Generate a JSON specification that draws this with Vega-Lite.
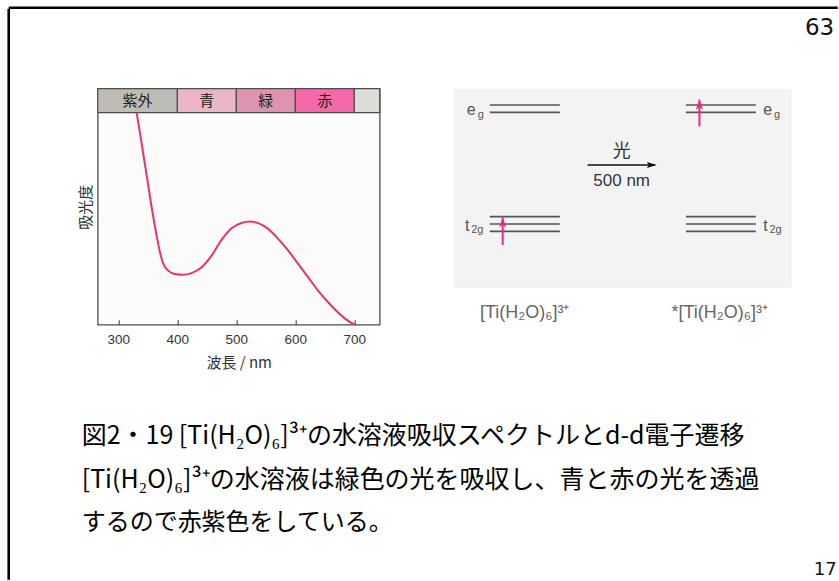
{
  "$schema": "https://vega.github.io/schema/vega-lite/v6.json",
  "padding": {"left": 6.7, "top": 5.7, "right": 0, "bottom": 0},
  "background": "white",
  "bounds": "flush",
  "spacing": 0,
  "config": {"view": {"stroke": null}, "font": "Liberation Sans"},
  "vconcat": [
    {
      "width": 829,
      "height": 0.001,
      "title": {"text": "63", "orient": "bottom", "anchor": "end", "offset": 8, "dx": -3.5, "font": "DejaVu Sans", "fontSize": 23, "fontWeight": "normal", "color": "#111", "frame": "group"},
      "data": {"values": [{"k": "border"}]},
      "mark": {"type": "rule", "color": "black", "strokeWidth": 2.6},
      "encoding": {"y": {"datum": 0, "type": "quantitative", "scale": {"domain": [0, 1]}, "axis": null}}
    },
    {
      "bounds": "flush",
      "spacing": 88,
      "hconcat": [
        {
          "width": 0.001,
          "height": 571,
          "data": {"values": [{"k": "border"}]},
          "mark": {"type": "rule", "color": "black", "strokeWidth": 2.6},
          "encoding": {"x": {"datum": 0, "type": "quantitative", "scale": {"domain": [0, 1]}, "axis": null}}
        },
        {
          "bounds": "flush",
          "spacing": 79,
          "vconcat": [
            {
              "width": 0.001,
              "height": 0.001,
              "data": {"values": []},
              "mark": {"type": "text"},
              "encoding": {"text": {"field": "t", "type": "nominal"}}
            },
            {
              "bounds": "flush",
              "spacing": 347.6,
              "vconcat": [
                {
                  "bounds": "flush",
                  "spacing": 74,
                  "hconcat": [
                    {
                      "width": 282,
                      "height": 236,
                      "view": {"stroke": "#4d4d4d", "strokeWidth": 1.3, "fill": "#fbfbfa"},
                      "layer": [
                        {
                          "data": {"values": [
                            {"band": "紫外", "lo": 265, "hi": 400},
                            {"band": "青", "lo": 400, "hi": 500},
                            {"band": "緑", "lo": 500, "hi": 600},
                            {"band": "赤", "lo": 600, "hi": 700},
                            {"band": "", "lo": 700, "hi": 743}
                          ]},
                          "transform": [{"calculate": "(datum.lo + datum.hi) / 2", "as": "mid"}],
                          "layer": [
                            {
                              "mark": {"type": "rect", "stroke": "#4d4d4d", "strokeWidth": 1.2},
                              "encoding": {
                                "x": {"field": "lo", "type": "quantitative", "scale": {"domain": [265, 743], "nice": false, "zero": false}},
                                "x2": {"field": "hi"},
                                "y": {"datum": 1.0, "type": "quantitative"},
                                "y2": {"datum": 1.1132},
                                "color": {"field": "band", "type": "nominal", "legend": null,
                                  "scale": {"domain": ["紫外", "青", "緑", "赤", ""], "range": ["#bdbdb5", "#eab6c8", "#de94b0", "#f46aa8", "#dcdcd8"]}}
                              }
                            },
                            {
                              "mark": {"type": "text", "font": "Noto Sans CJK JP", "fontSize": 15, "color": "#222", "baseline": "middle", "align": "center"},
                              "encoding": {
                                "x": {"field": "mid", "type": "quantitative"},
                                "y": {"datum": 1.0566, "type": "quantitative"},
                                "text": {"field": "band"}
                              }
                            }
                          ]
                        },
                        {
                          "data": {"values": [
                            {"wl": 331.0, "a": 1.0}, {"wl": 339.5, "a": 0.854}, {"wl": 348.0, "a": 0.704},
                            {"wl": 356.4, "a": 0.554}, {"wl": 364.9, "a": 0.42}, {"wl": 370.5, "a": 0.342},
                            {"wl": 376.2, "a": 0.287}, {"wl": 384.6, "a": 0.255}, {"wl": 395.9, "a": 0.239},
                            {"wl": 410.0, "a": 0.235}, {"wl": 424.1, "a": 0.243}, {"wl": 441.1, "a": 0.271},
                            {"wl": 458.0, "a": 0.326}, {"wl": 474.9, "a": 0.4}, {"wl": 491.8, "a": 0.455},
                            {"wl": 508.8, "a": 0.48}, {"wl": 522.9, "a": 0.487}, {"wl": 537.0, "a": 0.479},
                            {"wl": 553.9, "a": 0.452}, {"wl": 570.8, "a": 0.405}, {"wl": 587.7, "a": 0.35},
                            {"wl": 604.7, "a": 0.287}, {"wl": 621.6, "a": 0.224}, {"wl": 638.5, "a": 0.161},
                            {"wl": 655.5, "a": 0.106}, {"wl": 672.4, "a": 0.058}, {"wl": 686.5, "a": 0.024},
                            {"wl": 700.0, "a": 0.0}
                          ]},
                          "mark": {"type": "line", "color": "#e8336e", "strokeWidth": 2, "interpolate": "monotone"},
                          "encoding": {
                            "x": {"field": "wl", "type": "quantitative",
                              "scale": {"domain": [265, 743], "nice": false, "zero": false},
                              "axis": {"title": "波長 / nm", "values": [300, 400, 500, 600, 700], "tickSize": -5, "tickColor": "#555", "tickWidth": 1.2, "labelPadding": 13, "domain": false, "grid": false,
                                "labelFont": "Liberation Sans", "labelFontSize": 13.5, "labelColor": "#333",
                                "titleFont": "Noto Sans CJK JP", "titleFontSize": 15, "titleFontWeight": "normal", "titleColor": "#333", "titlePadding": 9}},
                            "y": {"field": "a", "type": "quantitative",
                              "scale": {"domain": [0, 1.1132], "nice": false},
                              "axis": {"title": "吸光度", "ticks": false, "labels": false, "domain": false, "grid": false,
                                "titleFont": "Noto Sans CJK JP", "titleFontSize": 15, "titleFontWeight": "normal", "titleColor": "#333", "titlePadding": 4}}
                          }
                        }
                      ]
                    },
                    {
                      "width": 338,
                      "height": 199,
                      "view": {"stroke": null, "fill": "#f3f3f3"},
                      "layer": [
                        {
                          "data": {"values": [
                            {"x": 10.7, "x2": 31.4, "e": 91.8}, {"x": 10.7, "x2": 31.4, "e": 88.1},
                            {"x": 10.7, "x2": 31.4, "e": 35.7}, {"x": 10.7, "x2": 31.4, "e": 32.0}, {"x": 10.7, "x2": 31.4, "e": 28.3},
                            {"x": 68.7, "x2": 89.4, "e": 91.8}, {"x": 68.7, "x2": 89.4, "e": 88.1},
                            {"x": 68.7, "x2": 89.4, "e": 35.7}, {"x": 68.7, "x2": 89.4, "e": 32.0}, {"x": 68.7, "x2": 89.4, "e": 28.3}
                          ]},
                          "mark": {"type": "rule", "color": "#555", "strokeWidth": 1.6},
                          "encoding": {
                            "x": {"field": "x", "type": "quantitative", "scale": {"domain": [0, 100]}, "axis": null},
                            "x2": {"field": "x2"},
                            "y": {"field": "e", "type": "quantitative", "scale": {"domain": [0, 100]}, "axis": null}
                          }
                        },
                        {
                          "data": {"values": [{"x": 14.5, "e": 21.5, "e2": 35.3}, {"x": 72.7, "e": 81.1, "e2": 94.5}]},
                          "layer": [
                            {
                              "mark": {"type": "rule", "color": "#f0287d", "strokeWidth": 2},
                              "encoding": {
                                "x": {"field": "x", "type": "quantitative"},
                                "y": {"field": "e", "type": "quantitative"},
                                "y2": {"field": "e2"}
                              }
                            },
                            {
                              "mark": {"type": "point", "shape": "M0,0L0.55,1.5L0,1.15L-0.55,1.5Z", "filled": true, "opacity": 1, "color": "#f0287d", "size": 170, "strokeWidth": 0},
                              "encoding": {
                                "x": {"field": "x", "type": "quantitative"},
                                "y": {"field": "e2", "type": "quantitative"}
                              }
                            }
                          ]
                        },
                        {
                          "data": {"values": [{"x": 39.6, "x2": 59.5, "tip": 60.1, "e": 61.7}]},
                          "layer": [
                            {
                              "mark": {"type": "rule", "color": "#111", "strokeWidth": 1.5},
                              "encoding": {
                                "x": {"field": "x", "type": "quantitative"},
                                "x2": {"field": "x2"},
                                "y": {"field": "e", "type": "quantitative"}
                              }
                            },
                            {
                              "mark": {"type": "point", "shape": "M0,0L-2,-0.6L-1.6,0L-2,0.6Z", "filled": true, "opacity": 1, "color": "#111", "size": 100, "strokeWidth": 0},
                              "encoding": {
                                "x": {"field": "tip", "type": "quantitative"},
                                "y": {"field": "e", "type": "quantitative"}
                              }
                            }
                          ]
                        },
                        {
                          "data": {"values": [{"t": "光", "x": 49.7, "e": 68.0}]},
                          "mark": {"type": "text", "font": "Noto Sans CJK JP", "fontSize": 18, "color": "#333", "align": "center", "baseline": "middle"},
                          "encoding": {
                            "x": {"field": "x", "type": "quantitative"},
                            "y": {"field": "e", "type": "quantitative"},
                            "text": {"field": "t"}
                          }
                        },
                        {
                          "data": {"values": [{"t": "500 nm", "x": 49.7, "e": 53.8}]},
                          "mark": {"type": "text", "font": "Liberation Sans", "fontSize": 17, "color": "#333", "align": "center", "baseline": "middle"},
                          "encoding": {
                            "x": {"field": "x", "type": "quantitative"},
                            "y": {"field": "e", "type": "quantitative"},
                            "text": {"field": "t"}
                          }
                        },
                        {
                          "data": {"values": [
                            {"t": "e", "x": 3.85, "e": 86.8}, {"t": "t", "x": 3.34, "e": 28.6},
                            {"t": "e", "x": 91.6, "e": 86.8}, {"t": "t", "x": 91.6, "e": 28.6}
                          ]},
                          "mark": {"type": "text", "font": "Liberation Sans", "fontSize": 16, "color": "#555", "align": "left", "baseline": "alphabetic"},
                          "encoding": {
                            "x": {"field": "x", "type": "quantitative"},
                            "y": {"field": "e", "type": "quantitative"},
                            "text": {"field": "t"}
                          }
                        },
                        {
                          "data": {"values": [
                            {"t": "g", "x": 7.1, "e": 85.5}, {"t": "2g", "x": 5.18, "e": 27.4},
                            {"t": "g", "x": 94.8, "e": 85.5}, {"t": "2g", "x": 93.4, "e": 27.4}
                          ]},
                          "mark": {"type": "text", "font": "Liberation Sans", "fontSize": 11, "color": "#555", "align": "left", "baseline": "alphabetic"},
                          "encoding": {
                            "x": {"field": "x", "type": "quantitative"},
                            "y": {"field": "e", "type": "quantitative"},
                            "text": {"field": "t"}
                          }
                        },
                        {
                          "data": {"values": [
                            {"t": "[Ti(H₂O)₆]³⁺", "x": 21.0, "e": -12.6},
                            {"t": "*[Ti(H₂O)₆]³⁺", "x": 78.7, "e": -12.6}
                          ]},
                          "mark": {"type": "text", "font": "Liberation Sans", "fontSize": 18, "color": "#666", "align": "center", "baseline": "middle"},
                          "encoding": {
                            "x": {"field": "x", "type": "quantitative"},
                            "y": {"field": "e", "type": "quantitative"},
                            "text": {"field": "t"}
                          }
                        }
                      ]
                    }
                  ]
                },
                {
                  "width": 739,
                  "height": 87,
                  "title": {"text": "17", "orient": "bottom", "anchor": "end", "offset": 26, "font": "DejaVu Sans", "fontSize": 18, "fontWeight": "normal", "color": "#111", "frame": "group"},
                  "layer": [
                    {
                      "data": {"values": [
                        {"line": 1, "text": "図2・19 [Ti(H₂O)₆]³⁺の水溶液吸収スペクトルとd-d電子遷移"},
                        {"line": 2, "text": "[Ti(H₂O)₆]³⁺の水溶液は緑色の光を吸収し、青と赤の光を透過"}
                      ]},
                      "mark": {"type": "text", "align": "left", "baseline": "middle", "dx": -16, "font": "Noto Sans CJK JP", "fontSize": 25, "color": "#000"},
                      "encoding": {
                        "y": {"field": "line", "type": "ordinal", "scale": {"type": "point", "padding": 0, "domain": [1, 2, 3]}, "axis": null},
                        "x": {"value": 0},
                        "text": {"field": "text"}
                      }
                    },
                    {
                      "data": {"values": [
                        {"line": 3, "text": "するので赤紫色をしている。"}
                      ]},
                      "mark": {"type": "text", "align": "left", "baseline": "middle", "dx": -16, "font": "Noto Sans CJK JP", "fontSize": 24, "color": "#000"},
                      "encoding": {
                        "y": {"field": "line", "type": "ordinal", "axis": null},
                        "x": {"value": 0},
                        "text": {"field": "text"}
                      }
                    }
                  ]
                }
              ]
            }
          ]
        }
      ]
    }
  ]
}
